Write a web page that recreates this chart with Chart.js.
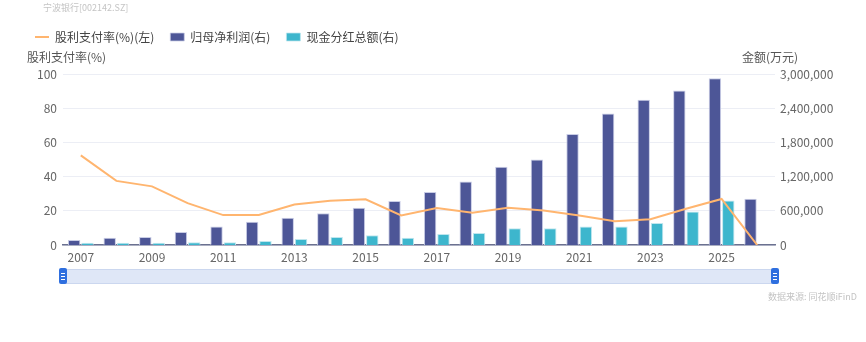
<!DOCTYPE html>
<html lang="zh">
<head>
<meta charset="UTF-8">
<title>宁波银行 股利支付率</title>
<script src="https://cdn.jsdelivr.net/npm/chart.js"></script>
<style>
    html, body { margin: 0; padding: 0; background: #fff; }
    #box { position: relative; width: 866px; height: 342px; }
</style>
</head>
<body>
<div id="box"><canvas id="grafico" width="866" height="342"></canvas></div>
<script>
    // dados
    var anos = ["2007", "2008", "2009", "2010", "2011", "2012", "2013", "2014", "2015", "2016",
        "2017", "2018", "2019", "2020", "2021", "2022", "2023", "2024", "2025", "2026"];
    var payout = [52.4, 37.5, 34.3, 24.5, 17.5, 17.5, 23.7, 25.9, 26.7, 17.3,
        21.6, 18.8, 21.8, 20.2, 17.2, 13.9, 15.1, 21.2, 26.9, 0];
    var lucro = [88000, 129000, 141000, 229000, 323000, 406000, 476000, 559000, 653000, 771000,
        929000, 1112000, 1371000, 1500000, 1947000, 2306000, 2547000, 2712000, 2924000, 812000];
    var dividendo = [41000, 41000, 41000, 47000, 47000, 71000, 106000, 141000, 171000, 129000,
        194000, 212000, 294000, 294000, 323000, 323000, 388000, 588000, 782000, null];
    var ticksEsq = [0, 20, 40, 60, 80, 100];
    var ticksDir = [0, 600000, 1200000, 1800000, 2400000, 3000000];

    var fonte = '"Noto Sans CJK SC", "Noto Sans", sans-serif';
    Chart.defaults.font.family = fonte;

    // textos extras e barra de zoom
    var extras = {
        id: 'extras',
        afterInit: function (chart) {
            // espaço extra abaixo da legenda para os títulos dos eixos
            var fitOrig = chart.legend.fit;
            chart.legend.fit = function () { fitOrig.call(this); this.height += 21; };
        },
        afterDraw: function (chart) {
            var ctx = chart.ctx;
            ctx.save();
            ctx.textBaseline = 'middle';
            ctx.fillStyle = '#c4c4c4';
            ctx.font = '9px ' + fonte;
            ctx.textAlign = 'left';
            ctx.fillText('宁波银行[002142.SZ]', 43, 8);
            ctx.textAlign = 'right';
            ctx.fillText('数据来源: 同花顺iFinD', 857, 297);

            ctx.fillStyle = '#555';
            ctx.font = '12px ' + fonte;
            ctx.textAlign = 'left';
            ctx.fillText('股利支付率(%)', 27, 57);
            ctx.fillText('金额(万元)', 742, 57);

            // slider
            var x0 = 63, x1 = 775, y0 = 269, h = 14;
            ctx.fillStyle = '#dfe7f7';
            ctx.strokeStyle = '#cbd7ef';
            ctx.lineWidth = 1;
            ctx.fillRect(x0, y0, x1 - x0, h);
            ctx.strokeRect(x0 + 0.5, y0 + 0.5, x1 - x0, h);
            [x0, x1].forEach(function (x) {
                ctx.fillStyle = '#2f6fdf';
                ctx.beginPath();
                ctx.roundRect(x - 4, y0 - 1, 8, h + 2, 2);
                ctx.fill();
                ctx.strokeStyle = '#ffffff';
                for (var i = -1; i <= 1; i++) {
                    ctx.beginPath();
                    ctx.moveTo(x - 2, y0 + h / 2 + i * 3 + 0.5);
                    ctx.lineTo(x + 2, y0 + h / 2 + i * 3 + 0.5);
                    ctx.stroke();
                }
            });
            ctx.restore();
        }
    };

    var ctx = document.getElementById('grafico').getContext('2d');
    var config = {
        type: 'bar',
        data: {
            labels: anos,
            datasets: [
                {
                    type: 'line',
                    label: '股利支付率(%)(左)',
                    data: payout,
                    yAxisID: 'yEsq',
                    borderColor: '#ffb56f',
                    backgroundColor: '#ffb56f',
                    borderWidth: 2,
                    pointRadius: 0,
                    pointStyle: 'line',
                    tension: 0,
                    order: 0
                },
                {
                    label: '归母净利润(右)',
                    data: lucro,
                    yAxisID: 'yDir',
                    backgroundColor: '#4d5697',
                    borderColor: '#c9cde6',
                    borderWidth: { top: 1, left: 1, right: 1, bottom: 0 },
                    pointStyle: 'rect',
                    categoryPercentage: 0.75,
                    barPercentage: 0.93,
                    order: 1
                },
                {
                    label: '现金分红总额(右)',
                    data: dividendo,
                    yAxisID: 'yDir',
                    backgroundColor: '#3db6cd',
                    borderColor: '#bfe6ee',
                    borderWidth: { top: 1, left: 1, right: 1, bottom: 0 },
                    pointStyle: 'rect',
                    categoryPercentage: 0.75,
                    barPercentage: 0.93,
                    order: 1
                }
            ]
        },
        options: {
            responsive: false,
            animation: false,
            layout: { padding: { top: 15, left: 19, right: 10, bottom: 72 } },
            plugins: {
                legend: {
                    position: 'top',
                    align: 'start',
                    labels: {
                        usePointStyle: true,
                        pointStyleWidth: 14,
                        boxHeight: 8,
                        padding: 16,
                        color: '#444',
                        font: { size: 12 }
                    }
                },
                tooltip: { enabled: false }
            },
            scales: {
                x: {
                    grid: { display: false, drawTicks: false },
                    border: { color: '#6b7190', width: 1.5 },
                    ticks: {
                        autoSkip: false,
                        maxRotation: 0,
                        padding: 5,
                        color: '#666',
                        font: { size: 12 },
                        callback: function (v, i) { return i % 2 === 0 ? anos[i] : ''; }
                    },
                    afterFit: function (s) { s.height = 25; }
                },
                yEsq: {
                    position: 'left',
                    min: 0,
                    max: 100,
                    afterBuildTicks: function (s) { s.ticks = ticksEsq.map(function (v) { return { value: v }; }); },
                    grid: { color: '#eceef5', drawTicks: false },
                    border: { display: false },
                    ticks: { color: '#666', padding: 6, font: { size: 12 } },
                    afterFit: function (s) { s.width = 44; }
                },
                yDir: {
                    position: 'right',
                    min: 0,
                    max: 3000000,
                    afterBuildTicks: function (s) { s.ticks = ticksDir.map(function (v) { return { value: v }; }); },
                    grid: { display: false, drawTicks: false },
                    border: { display: false },
                    ticks: {
                        color: '#666',
                        padding: 5,
                        font: { size: 12 },
                        callback: function (v) { return v.toLocaleString('en-US'); }
                    },
                    afterFit: function (s) { s.width = 81; }
                }
            }
        },
        plugins: [extras]
    };
    var grafico = new Chart(ctx, config);
</script>
</body>
</html>
